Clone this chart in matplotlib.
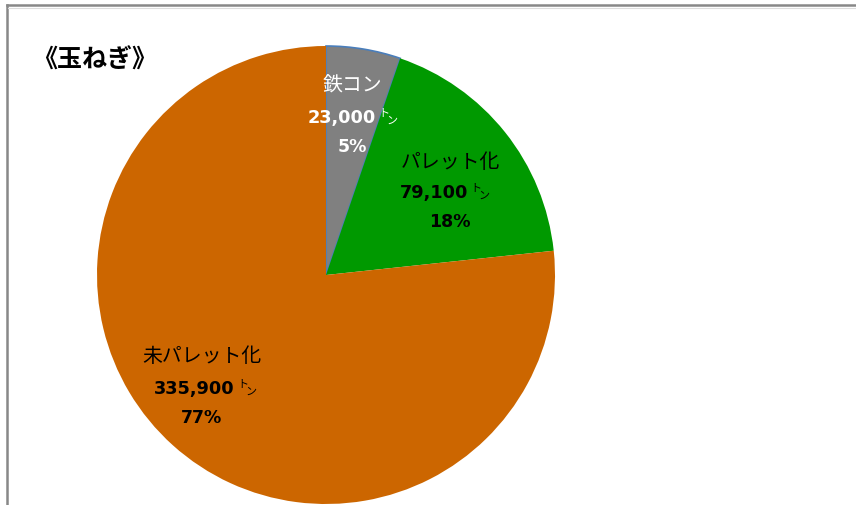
import matplotlib
matplotlib.use('Agg')
import matplotlib.pyplot as plt
from matplotlib.lines import Line2D

plt.rcParams['font.family'] = ['Noto Sans CJK JP', 'DejaVu Sans']
NUM_FONT = ['DejaVu Sans', 'Noto Sans CJK JP']

# 玉ねぎの出荷形態別数量（トン）
categories = ['鉄コン', 'パレット化', '未パレット化']
tonnage = [23000, 79100, 335900]
colors = ['#808080', '#009900', '#cc6600']
text_colors = ['white', 'black', 'black']

W, H = 856, 506
fig = plt.figure(figsize=(W / 100, H / 100), dpi=100)
ax = fig.add_axes([0, 0, 1, 1])

center = (326, H - 276)
radius = 229
wedges, _ = ax.pie(tonnage, colors=colors, startangle=90, counterclock=False,
                   center=center, radius=radius, frame=True,
                   wedgeprops=dict(linewidth=0))
wedges[0].set_edgecolor('#4a7ebb')
wedges[0].set_linewidth(1.2)
ax.set_xlim(0, W)
ax.set_ylim(0, H)
ax.set_aspect('equal')
ax.axis('off')

# label anchors: (center x, name y, number right edge, number y, pct y)
label_pos = [
    (352, 86, 376, 118, 147),
    (450, 162, 468, 193, 222),
    (202, 357, 235, 389, 418),
]
total = sum(tonnage)
for (cx, ny, rx, vy, py), name, val, tc in zip(label_pos, categories,
                                                 tonnage, text_colors):
    ax.text(cx, H - ny, name, ha='center', va='center', fontsize=14.3,
            color=tc)
    ax.text(rx, H - vy, '{:,}'.format(val), ha='right', va='center',
            fontsize=12.8, fontweight='bold', color=tc, family=NUM_FONT)
    # small "ﾄﾝ" unit, the ト sits higher than the ン
    ax.text(rx + 2, H - vy + 5, 'ト', ha='left', va='center',
            fontsize=8, color=tc)
    ax.text(rx + 10, H - vy - 3, 'ン', ha='left', va='center',
            fontsize=8, color=tc)
    ax.text(cx, H - py, '%d%%' % round(val / total * 100), ha='center',
            va='center', fontsize=12.5, fontweight='bold', color=tc,
            family=NUM_FONT)

ax.text(32, H - 61, '《玉ねぎ》', ha='left', va='center', fontsize=18,
        fontweight='bold', color='black')

# chart frame (runs off the right and bottom edges)
fig.add_artist(Line2D([7 / W, 1], [1 - 6 / H, 1 - 6 / H],
                      color='#888888', linewidth=1.8))
fig.add_artist(Line2D([7 / W, 7 / W], [0, 1 - 6 / H],
                      color='#888888', linewidth=1.8))
fig.add_artist(Line2D([8 / W, 1], [1 - 8.5 / H, 1 - 8.5 / H],
                      color='#dddddd', linewidth=0.8))

fig.savefig('out.png', dpi=100, facecolor='white')
